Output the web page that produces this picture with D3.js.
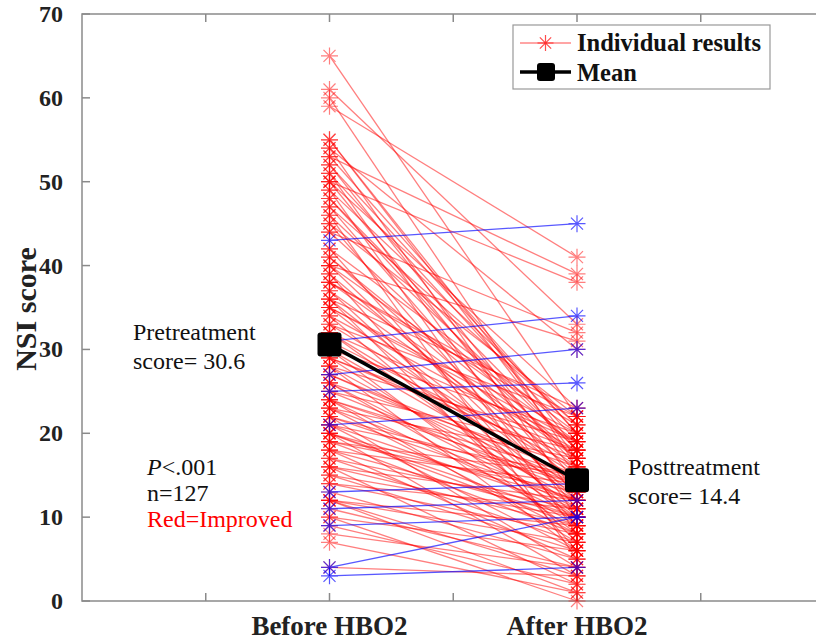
<!DOCTYPE html>
<html>
<head>
<meta charset="utf-8">
<script src="https://cdn.jsdelivr.net/npm/d3@7"></script>
<style>
  body { margin: 0; background: #fff; }
  svg { display: block; font-family: "Liberation Serif", "Times New Roman", serif; }
</style>
</head>
<body>
<script>
// NSI scores per patient, before and after HBO2
var beforeScores = [65, 61, 60, 59, 55, 55, 54, 54, 53, 53,
  52, 52, 51, 51, 50, 50, 50, 49, 49, 48,
  48, 47, 47, 46, 46, 45, 45, 44, 44, 43,
  42, 42, 41, 41, 40, 40, 40, 39, 39, 38,
  38, 38, 37, 37, 36, 36, 36, 35, 35, 35,
  34, 34, 33, 33, 32, 32, 32, 31, 31, 30,
  30, 30, 29, 29, 29, 28, 28, 28, 27, 27,
  27, 26, 26, 26, 25, 25, 25, 24, 24, 24,
  24, 23, 23, 23, 22, 22, 22, 21, 21, 21,
  21, 20, 20, 20, 20, 19, 19, 19, 18, 18,
  18, 17, 17, 16, 16, 16, 15, 15, 14, 14,
  13, 13, 12, 12, 12, 12, 11, 11, 10, 10,
  9, 9, 8, 7, 4, 3, 4];
var afterScores = [22, 33, 16, 41, 18, 17, 30, 12, 20, 39,
  15, 20, 19, 10, 23, 14, 38, 21, 8, 18,
  16, 13, 21, 18, 5, 22, 11, 17, 32, 45,
  20, 9, 15, 17, 12, 19, 31, 14, 6, 21,
  17, 22, 10, 16, 23, 13, 7, 20, 12, 19,
  18, 9, 15, 22, 11, 19, 14, 34, 16, 8,
  20, 13, 17, 10, 18, 12, 19, 6, 30, 14,
  15, 9, 16, 11, 26, 13, 18, 7, 15, 14,
  10, 12, 17, 8, 14, 4, 12, 23, 11, 15,
  6, 9, 10, 12, 3, 13, 8, 15, 10, 5,
  14, 11, 7, 9, 12, 2, 10, 6, 8, 11,
  14, 5, 7, 9, 3, 1, 12, 4, 6, 0,
  10, 2, 4, 1, 10, 4, 3];
var meanScores = [30.6, 14.4];
var timeLabels = ["Before HBO2", "After HBO2"];
var yTicks = [0, 10, 20, 30, 40, 50, 60, 70];
var xTicks = [0.5, 1, 1.5, 2, 2.5];

var width = 816, height = 641;
var svg = d3.select("body").append("svg")
  .attr("width", width)
  .attr("height", height);

var x = d3.scaleLinear().domain([0, 3]).range([82, 824.5]);
var y = d3.scaleLinear().domain([0, 70]).range([601, 14]);

// axes box (gray, ticks inside)
var axisColor = "#8a8a8a";
svg.append("rect")
  .attr("x", x(0)).attr("y", y(70))
  .attr("width", x(3) - x(0)).attr("height", y(0) - y(70))
  .attr("fill", "none").attr("stroke", axisColor).attr("stroke-width", 1.5);

yTicks.forEach(function(t) {
  svg.append("line").attr("x1", x(0)).attr("x2", x(0) + 8)
    .attr("y1", y(t)).attr("y2", y(t)).attr("stroke", axisColor).attr("stroke-width", 1.5);
  svg.append("line").attr("x1", x(3)).attr("x2", x(3) - 8)
    .attr("y1", y(t)).attr("y2", y(t)).attr("stroke", axisColor).attr("stroke-width", 1.5);
  svg.append("text")
    .attr("x", 63).attr("y", y(t) + 8)
    .attr("text-anchor", "end")
    .attr("font-size", 24).attr("font-weight", "bold")
    .attr("fill", "#222")
    .text(t);
});
xTicks.forEach(function(t) {
  svg.append("line").attr("x1", x(t)).attr("x2", x(t))
    .attr("y1", y(0)).attr("y2", y(0) - 8).attr("stroke", axisColor).attr("stroke-width", 1.5);
  svg.append("line").attr("x1", x(t)).attr("x2", x(t))
    .attr("y1", y(70)).attr("y2", y(70) + 8).attr("stroke", axisColor).attr("stroke-width", 1.5);
});
timeLabels.forEach(function(lab, i) {
  svg.append("text")
    .attr("x", x(i + 1)).attr("y", 635)
    .attr("text-anchor", "middle")
    .attr("font-size", 27).attr("font-weight", "bold")
    .attr("fill", "#222")
    .text(lab);
});

// y axis title
svg.append("text")
  .attr("transform", "translate(36,309) rotate(-90)")
  .attr("text-anchor", "middle")
  .attr("font-size", 30).attr("font-weight", "bold")
  .attr("fill", "#222")
  .text("NSI score");

// star marker like matlab '*'
function star(g, cx, cy, r, color) {
  var d = 0.7071 * r;
  g.append("path")
    .attr("d", "M" + (cx - r) + "," + cy + "L" + (cx + r) + "," + cy +
      "M" + cx + "," + (cy - r) + "L" + cx + "," + (cy + r) +
      "M" + (cx - d) + "," + (cy - d) + "L" + (cx + d) + "," + (cy + d) +
      "M" + (cx - d) + "," + (cy + d) + "L" + (cx + d) + "," + (cy - d))
    .attr("stroke", color).attr("stroke-width", 1.2).attr("fill", "none");
}

var pairs = beforeScores.map(function(b, i) {
  return { before: b, after: afterScores[i], improved: afterScores[i] < b };
});
// red ones first, blue (not improved) drawn on top
pairs.sort(function(a, b) { return (b.improved ? 1 : 0) - (a.improved ? 1 : 0); });

var indiv = svg.append("g");
pairs.forEach(function(p) {
  var color = p.improved ? "#ff0000" : "#0000ff";
  var g = indiv.append("g").attr("opacity", p.improved ? 0.5 : 0.65);
  g.append("line")
    .attr("x1", x(1)).attr("y1", y(p.before))
    .attr("x2", x(2)).attr("y2", y(p.after))
    .attr("stroke", color).attr("stroke-width", 1.3);
  star(g, x(1), y(p.before), 8.5, color);
  star(g, x(2), y(p.after), 8.5, color);
});

// mean line
svg.append("line")
  .attr("x1", x(1)).attr("y1", y(meanScores[0]))
  .attr("x2", x(2)).attr("y2", y(meanScores[1]))
  .attr("stroke", "#000").attr("stroke-width", 3.5);
meanScores.forEach(function(m, i) {
  svg.append("rect")
    .attr("x", x(i + 1) - 12).attr("y", y(m) - 12)
    .attr("width", 24).attr("height", 24).attr("rx", 3)
    .attr("fill", "#000");
});

// annotations
function note(txt, tx, ty, color) {
  return svg.append("text").attr("x", tx).attr("y", ty)
    .attr("font-size", 24).attr("fill", color || "#111").text(txt);
}
note("Pretreatment", 133, 340);
note("score= " + meanScores[0].toFixed(1), 133, 369);
var pt = note("", 147, 475);
pt.append("tspan").attr("font-style", "italic").text("P");
pt.append("tspan").text("<.001");
note("n=" + beforeScores.length, 147, 501);
note("Red=Improved", 147, 527, "#ff0000");
note("Posttreatment", 628, 475);
note("score= " + meanScores[1].toFixed(1), 628, 504);

// legend
var leg = svg.append("g");
leg.append("rect")
  .attr("x", 513).attr("y", 25).attr("width", 257).attr("height", 64)
  .attr("fill", "#fff").attr("stroke", "#999").attr("stroke-width", 1.2);
leg.append("line").attr("x1", 520).attr("x2", 571).attr("y1", 43).attr("y2", 43)
  .attr("stroke", "#ff0000").attr("stroke-width", 1.2).attr("opacity", 0.7);
star(leg.append("g").attr("opacity", 0.7), 545.5, 43, 8, "#ff0000");
leg.append("line").attr("x1", 520).attr("x2", 571).attr("y1", 72).attr("y2", 72)
  .attr("stroke", "#000").attr("stroke-width", 3.5);
leg.append("rect").attr("x", 537).attr("y", 63).attr("width", 18).attr("height", 18)
  .attr("rx", 3).attr("fill", "#000");
leg.append("text").attr("x", 577).attr("y", 51)
  .attr("font-size", 24.5).attr("font-weight", "bold").attr("fill", "#111")
  .text("Individual results");
leg.append("text").attr("x", 577).attr("y", 81)
  .attr("font-size", 24.5).attr("font-weight", "bold").attr("fill", "#111")
  .text("Mean");
</script>
</body>
</html>
